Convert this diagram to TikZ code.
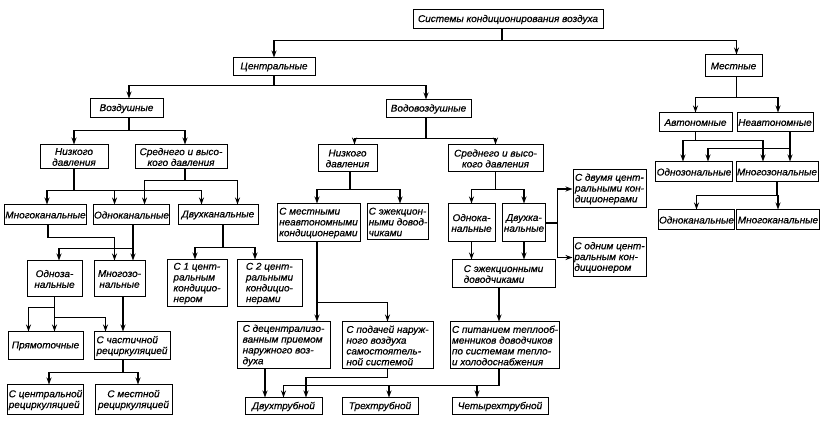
\documentclass[tikz,border=0pt]{standalone}
\usepackage{fontspec}
\setmainfont{Liberation Sans}[FakeStretch=1.02,FakeBold=0.6]
\usepackage{tikz}
\usetikzlibrary{arrows.meta,positioning,calc}
\tikzset{
    line color/.style={black},
    box/.style={draw,line color,line width=1pt,inner sep=1pt,align=center},
    lbox/.style={box,align=left},
    arr/.style={->,>={Stealth[length=7pt,width=5pt]},line color,line width=1.2pt},
}
\tikzstyle{every node}=[font=\fontsize{9.8}{10.8}\selectfont\itshape]

\begin{document}
\begin{tikzpicture}[x=1pt,y=-1pt]
        \useasboundingbox (0,0) rectangle (825,427);

        % top levels
        \node[box,minimum width=190pt,minimum height=19pt] (root) at (508,19.5) {Системы кондиционирования воздуха};
        \node[box,minimum width=82pt,minimum height=18pt] (cen) at (274,67) {Центральные};
        \node[box,minimum width=57pt,minimum height=22pt] (mest) at (733.5,66) {Местные};
        \node[box,minimum width=73pt,minimum height=19pt] (vozd) at (126.5,108.5) {Воздушные};
        \node[box,minimum width=85pt,minimum height=18pt] (vodo) at (428.5,109) {Водовоздушные};
        \node[box,minimum width=73pt,minimum height=19pt] (avt) at (695.5,122.5) {Автономные};
        \node[box,minimum width=76pt,minimum height=19pt] (neavt) at (775,122.5) {Неавтономные};

        % air systems
        \node[box,minimum width=68pt,minimum height=24pt] (nd1) at (74,157) {Низкого\\давления};
        \node[box,minimum width=92pt,minimum height=24pt] (sd1) at (181,157) {Среднего и высо-\\кого давления};
        \node[box,minimum width=75pt,minimum height=20pt] (mk1) at (45.5,215) {Многоканальные};
        \node[box,minimum width=73pt,minimum height=20pt] (ok1) at (131.5,215) {Одноканальные};
        \node[box,minimum width=80pt,minimum height=20pt] (dk1) at (218,215) {Двухканальные};
        \node[box,minimum width=55pt,minimum height=36pt] (oz1) at (54.5,279) {Одноза-\\нальные};
        \node[box,minimum width=51pt,minimum height=36pt] (mz1) at (119.5,279) {Многозо-\\нальные};
        \node[box,minimum width=75pt,minimum height=28pt] (pr) at (45.5,346) {Прямоточные};
        \node[lbox,minimum width=76pt,minimum height=28pt] (chr) at (132,346) {С частичной\\рециркуляцией};
        \node[lbox,minimum width=75pt,minimum height=30pt] (cr) at (45.5,400) {С центральной\\рециркуляцией};
        \node[box,minimum width=77pt,minimum height=30pt] (mr) at (133.5,400) {С местной\\рециркуляцией};
        \node[lbox,minimum width=60pt,minimum height=47pt] (c1) at (197,283.5) {С 1 цент-\\ральным\\кондицио-\\нером};
        \node[lbox,minimum width=65pt,minimum height=47pt] (c2) at (269.5,283.5) {С 2 цент-\\ральными\\кондицио-\\нерами};

        % water-air systems
        \node[box,minimum width=59pt,minimum height=27pt] (nd2) at (347.5,158.5) {Низкого\\давления};
        \node[box,minimum width=95pt,minimum height=27pt] (sd2) at (495.5,158.5) {Среднего и высо-\\кого давления};
        \node[lbox,minimum width=83pt,minimum height=38pt] (mnk) at (318.5,223) {С местными\\неавтономными\\кондиционерами};
        \node[lbox,minimum width=60pt,minimum height=36pt] (ezh1) at (398,222) {С эжекцион-\\ными довод-\\чиками};
        \node[box,minimum width=47pt,minimum height=38pt] (ok2) at (471.5,223) {Однока-\\нальные};
        \node[box,minimum width=42pt,minimum height=38pt] (dk2) at (524,223) {Двухка-\\нальные};
        \node[lbox,minimum width=103pt,minimum height=28pt] (ezh2) at (503.5,274) {С эжекционными\\доводчиками};
        \node[lbox,minimum width=73pt,minimum height=38pt] (dv) at (609.5,189) {С двумя цент-\\ральными кон-\\диционерами};
        \node[lbox,minimum width=73pt,minimum height=39pt] (od) at (609.5,257.5) {С одним цент-\\ральным кон-\\диционером};
        \node[lbox,minimum width=93pt,minimum height=47pt] (dec) at (283.5,345.5) {С децентрализо-\\ванным приемом\\наружного воз-\\духа};
        \node[lbox,minimum width=91pt,minimum height=47pt] (pod) at (387.5,345.5) {С подачей наруж-\\ного воздуха\\самостоятель-\\ной системой};
        \node[lbox,minimum width=106pt,minimum height=47pt] (pit) at (505,345.5) {С питанием теплооб-\\менников доводчиков\\по системам тепло-\\и холодоснабжения};
        \node[box,minimum width=77pt,minimum height=17pt] (dvt) at (283.5,406.5) {Двухтрубной};
        \node[box,minimum width=76pt,minimum height=17pt] (trt) at (380,406.5) {Трехтрубной};
        \node[box,minimum width=96pt,minimum height=17pt] (cht) at (500,406.5) {Четырехтрубной};

        % local systems
        \node[box,minimum width=72pt,minimum height=20pt] (oz3) at (694,172) {Однозональные};
        \node[box,minimum width=76pt,minimum height=20pt] (mz3) at (777,172) {Многозональные};
        \node[box,minimum width=73pt,minimum height=20pt] (ok3) at (696.5,220) {Одноканальные};
        \node[box,minimum width=78pt,minimum height=20pt] (mk3) at (778,220) {Многоканальные};

        % connectors
        \draw[arr] ([xshift=-6pt]root.south) -- ++(0,11) -| (cen.north);
        \draw[arr] ([xshift=-6pt]root.south) -- ++(0,11) -| ([xshift=3pt]mest.north);
        \draw[arr] (cen.south) -- ++(0,9) -| ([xshift=2.5pt]vozd.north);
        \draw[arr] (cen.south) -- ++(0,9) -| ([xshift=-2.5pt]vodo.north);
        \draw[arr] ([xshift=3pt]mest.south) -- ++(0,20) -| (avt.north);
        \draw[arr] ([xshift=3pt]mest.south) -- ++(0,20) -| ([xshift=3pt]neavt.north);

        \draw[arr] ([xshift=2.5pt]vozd.south) -- ++(0,12) -| (nd1.north);
        \draw[arr] ([xshift=2.5pt]vozd.south) -- ++(0,12) -| ([xshift=4pt]sd1.north);
        \draw[arr] (nd1.south) -- ++(0,21) -| ([xshift=1.5pt]mk1.north);
        \draw[arr] (nd1.south) -- ++(0,21) -| ([xshift=22pt]ok1.north west);
        \draw[arr] (nd1.south) -- ++(0,21) -| ([xshift=24pt]dk1.north west);
        \draw[arr] ([xshift=4pt]sd1.south) -- ++(0,11) -| ([xshift=52pt]ok1.north west);
        \draw[arr] ([xshift=4pt]sd1.south) -- ++(0,11) -| ([xshift=60pt]dk1.north west);
        \draw[arr] ([xshift=2.5pt]mk1.south) -- ++(0,12) -| ([xshift=21pt]mz1.north west);
        \draw[arr] ([xshift=1.5pt]ok1.south) -- ([xshift=1.5pt]ok1.south |- mz1.north);
        \draw[arr] ([xshift=1.5pt]ok1.south) -- ++(0,23) -| ([xshift=4.5pt]oz1.north);
        \draw[arr] (oz1.south) -- (oz1.south |- pr.north);
        \draw[arr] (oz1.south) -- ++(0,10) -| ([xshift=21pt]pr.north west);
        \draw[arr] (oz1.south) -- ++(0,20) -| ([xshift=12pt]chr.north west);
        \draw[arr] ([xshift=3.5pt]mz1.south) -- ([xshift=3.5pt]mz1.south |- chr.north);
        \draw[arr] ([xshift=-9pt]chr.south) -- ++(0,12) -| ([xshift=3.5pt]cr.north);
        \draw[arr] ([xshift=-9pt]chr.south) -- ++(0,12) -| ([xshift=4.5pt]mr.north);
        \draw[arr] ([xshift=5pt]dk1.south) -- ++(0,22) -| ([xshift=-2pt]c1.north);
        \draw[arr] ([xshift=5pt]dk1.south) -- ++(0,22) -| ([xshift=-14.5pt]c2.north);

        \draw[arr] ([xshift=-2.5pt]vodo.south) -- ++(0,20) -| ([xshift=7pt]nd2.north);
        \draw[arr] ([xshift=-2.5pt]vodo.south) -- ++(0,20) -| (sd2.north);
        \draw[arr] ([xshift=2.5pt]nd2.south) -- ++(0,17) -| ([xshift=-1.5pt]mnk.north);
        \draw[arr] ([xshift=2.5pt]nd2.south) -- ++(0,17) -| ([xshift=2pt]ezh1.north);
        \draw[arr] (sd2.south) -- ++(0,17) -| (ok2.north);
        \draw[arr] (sd2.south) -- ++(0,17) -| (dk2.north);
        \draw[arr] (ok2.south) -- (ok2.south |- ezh2.north);
        \draw[arr] (dk2.south) -- (dk2.south |- ezh2.north);
        \draw[arr] (dk2.east) -- ++(12,0) |- (dv.west);
        \draw[arr] (dk2.east) -- ++(12,0) |- (od.west);
        \draw[arr] ([xshift=-1.5pt]mnk.south) -- ([xshift=-1.5pt]mnk.south |- dec.north);
        \draw[arr] ([xshift=-1.5pt]mnk.south) -- ++(0,60) -| (pod.north);
        \draw[arr] ([xshift=-4.5pt]ezh2.south) -- ([xshift=-4.5pt]ezh2.south |- pit.north);
        \draw[arr] ([xshift=-18.5pt]dec.south) -- ([xshift=-18.5pt]dec.south |- dvt.north);
        \draw[arr] (pod.south) -- ++(0,8) -| ([xshift=22.5pt]dvt.north);
        \draw[arr] ([xshift=-6pt]pit.south) -- ++(0,16) -| (dvt.north);
        \draw[arr] ([xshift=-6pt]pit.south) -- ++(0,16) -| ([xshift=9pt]trt.north);
        \draw[arr] ([xshift=-6pt]pit.south) -- ++(0,16) -| ([xshift=-23pt]cht.north);

        \draw[arr] (avt.south) -- ++(0,8) -| ([xshift=-11pt]oz3.north);
        \draw[arr] (avt.south) -- ++(0,8) -| ([xshift=-14pt]mz3.north);
        \draw[arr] ([xshift=15pt]neavt.south) -- ([xshift=15pt]neavt.south |- mz3.north);
        \draw[arr] ([xshift=15pt]neavt.south) -- ++(0,16) -| ([xshift=14pt]oz3.north);
        \draw[arr] (mz3.south) -- ++(0,13) -| (ok3.north);
        \draw[arr] (mz3.south) -- ++(0,13) -| (mk3.north);
    \end{tikzpicture}
\end{document}
